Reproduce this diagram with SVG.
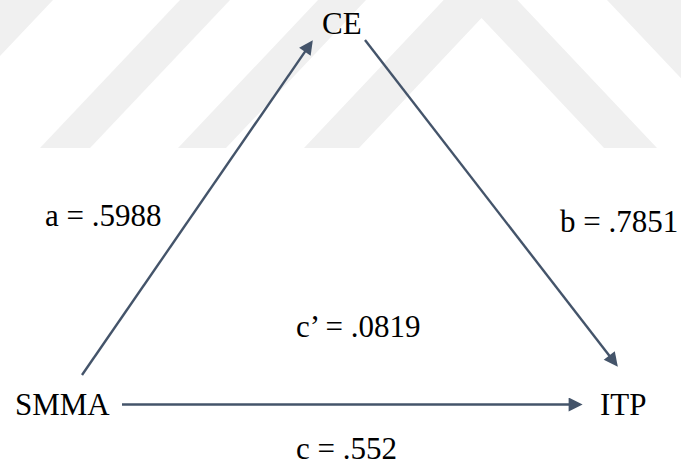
<svg xmlns="http://www.w3.org/2000/svg" width="681" height="465" viewBox="0 0 681 465">
  <defs>
    <style>
      .wm { fill: #f0f0f0; stroke: none; }
      .lbl { font-family: "Liberation Serif", "Times New Roman", serif; font-size: 31px; fill: #000000; }
      .edge { stroke: #44546A; stroke-width: 2.4; fill: none; }
    </style>
    <marker id="arrow" viewBox="0 0 10 10" refX="6.7" refY="5" markerWidth="15" markerHeight="14" markerUnits="userSpaceOnUse" orient="auto">
      <path d="M0,0 L10,5 L0,10 Z" fill="#44546A"/>
    </marker>
  </defs>
  <rect x="0" y="0" width="681" height="465" fill="#ffffff"/>
  <g id="watermark">
    <polygon class="wm" points="0,0 53,0 -87,148 -140,148"/>
    <polygon class="wm" points="40,148 90,148 230,0 180,0"/>
    <polygon class="wm" points="178,148 226,148 366,0 318,0"/>
    <polygon class="wm" points="304,148 480.5,-39 657,148 604,148 481.5,18 359,148"/>
    <polygon class="wm" points="607,0 700,0 840,148 747,148"/>
  </g>
  <g id="connectors">
    <path id="e-smma-ce" class="edge" d="M82,375 L310.2,44.1" marker-end="url(#arrow)"/>
    <path id="e-ce-itp" class="edge" d="M365,40 L615,363" marker-end="url(#arrow)"/>
    <path id="e-smma-itp" class="edge" d="M122,404.5 L578,404.5" marker-end="url(#arrow)"/>
  </g>
  <g id="node-ce"><text class="lbl" x="322" y="34">CE</text></g>
  <g id="node-smma"><text class="lbl" x="15" y="415">SMMA</text></g>
  <g id="node-itp"><text class="lbl" x="600" y="415">ITP</text></g>
  <g id="label-a"><text class="lbl" x="45" y="226">a = .5988</text></g>
  <g id="label-b"><text class="lbl" x="560" y="232">b = .7851</text></g>
  <g id="label-cprime"><text class="lbl" x="296" y="337">c’ = .0819</text></g>
  <g id="label-c"><text class="lbl" x="296" y="459">c = .552</text></g>
</svg>
